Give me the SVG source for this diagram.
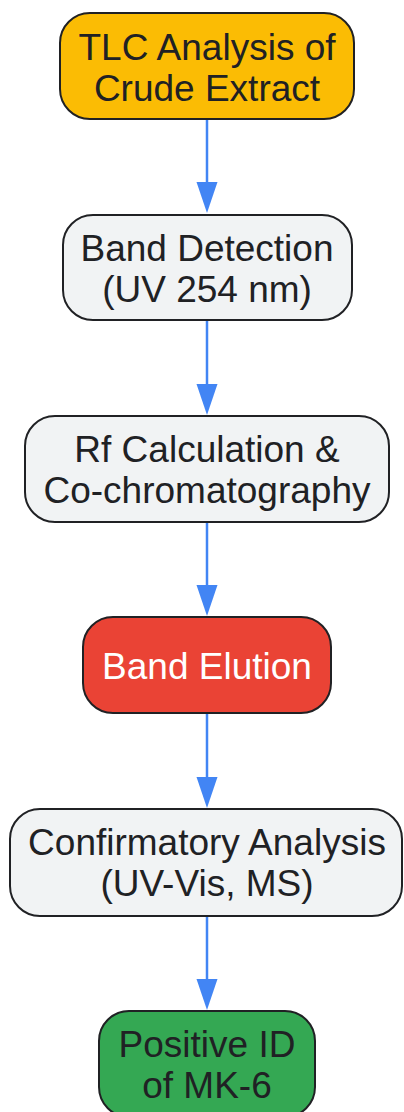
<svg xmlns="http://www.w3.org/2000/svg" width="404" height="1112" viewBox="0 0 404 1112">
  <style>
    .box { stroke: #202124; stroke-width: 2; }
    .lbl { font-family: "Liberation Sans", Arial, sans-serif; font-size: 37px; fill: #202124; text-anchor: middle; }
    .wht { fill: #ffffff; }
    .edge { stroke: #4285F4; stroke-width: 2.5; fill: none; }
  </style>
  <defs>
    <marker id="arr" viewBox="0 0 21 31" refX="10.5" refY="31" markerWidth="21" markerHeight="31" markerUnits="userSpaceOnUse" orient="auto-start-reverse">
      <path d="M0,0 L21,0 L10.5,31 Z" fill="#4285F4"/>
    </marker>
  </defs>
  <rect width="404" height="1112" fill="#ffffff"/>
  <g id="connectors">
    <line class="edge" x1="207" y1="119" x2="207" y2="182"/>
    <path d="M196.5,182 L217.5,182 L207,213 Z" fill="#4285F4"/>
    <line class="edge" x1="207" y1="320" x2="207" y2="384"/>
    <path d="M196.5,384 L217.5,384 L207,415 Z" fill="#4285F4"/>
    <line class="edge" x1="207" y1="522" x2="207" y2="585"/>
    <path d="M196.5,585 L217.5,585 L207,616 Z" fill="#4285F4"/>
    <line class="edge" x1="207" y1="713" x2="207" y2="777"/>
    <path d="M196.5,777 L217.5,777 L207,808 Z" fill="#4285F4"/>
    <line class="edge" x1="207" y1="916" x2="207" y2="979"/>
    <path d="M196.5,979 L217.5,979 L207,1010 Z" fill="#4285F4"/>
  </g>
  <g id="node1">
    <rect class="box" x="60" y="13" width="294" height="106" rx="30" fill="#FBBC04"/>
    <text class="lbl" x="207" y="60">TLC Analysis of</text>
    <text class="lbl" x="207" y="101">Crude Extract</text>
  </g>
  <g id="node2">
    <rect class="box" x="63" y="215" width="289" height="105" rx="30" fill="#F1F3F4"/>
    <text class="lbl" x="207" y="261">Band Detection</text>
    <text class="lbl" x="207" y="302">(UV 254 nm)</text>
  </g>
  <g id="node3">
    <rect class="box" x="25" y="416" width="364" height="106" rx="30" fill="#F1F3F4"/>
    <text class="lbl" x="207" y="462">Rf Calculation &amp;</text>
    <text class="lbl" x="207" y="503">Co-chromatography</text>
  </g>
  <g id="node4">
    <rect class="box" x="83" y="617" width="248" height="96" rx="30" fill="#EA4335"/>
    <text class="lbl wht" x="207" y="679">Band Elution</text>
  </g>
  <g id="node5">
    <rect class="box" x="10" y="809" width="392" height="107" rx="30" fill="#F1F3F4"/>
    <text class="lbl" x="207" y="855">Confirmatory Analysis</text>
    <text class="lbl" x="207" y="896">(UV-Vis, MS)</text>
  </g>
  <g id="node6">
    <rect class="box" x="99" y="1011" width="216" height="106" rx="30" fill="#34A853"/>
    <text class="lbl" x="207" y="1057">Positive ID</text>
    <text class="lbl" x="207" y="1098">of MK-6</text>
  </g>
</svg>
